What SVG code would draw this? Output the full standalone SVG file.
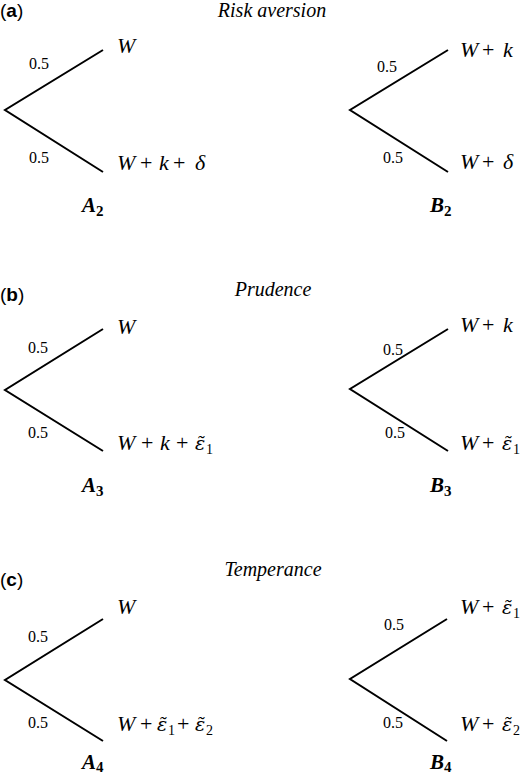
<svg xmlns="http://www.w3.org/2000/svg" width="520" height="777" viewBox="0 0 520 777">
<style>
.bg{fill:#fff}
.ln{stroke:#000;stroke-width:2;fill:none;stroke-linecap:butt}
.pl{font-family:"Liberation Sans",Arial,sans-serif;font-size:19px;fill:#000}
.pl .b{font-weight:bold}
.ti{font-family:"Liberation Serif",serif;font-style:italic;font-size:20px;fill:#000}
.pr{font-family:"Liberation Serif",serif;font-size:16px;fill:#000}
.m{font-family:"Liberation Serif",serif;font-style:italic;font-size:22px;fill:#000}
.m .u{font-style:normal}
.m .s{font-style:normal;font-size:14px}
.e{font-family:"DejaVu Serif",serif;font-style:italic;font-size:19px}
.lb{font-family:"Liberation Serif",serif;font-style:italic;font-weight:bold;font-size:21px;fill:#000}
.lb .s{font-style:normal;font-size:15px}
</style>
<rect class="bg" x="0" y="0" width="520" height="777"/>

<g id="connectors">
<path class="ln" d="M103,50 L5,110 L103,172"/>
<path class="ln" d="M448,50 L350,110 L448,172"/>
<path class="ln" d="M103,329 L5,390 L103,451"/>
<path class="ln" d="M448,329 L350,389 L448,451"/>
<path class="ln" d="M103,619 L5,680 L103,741"/>
<path class="ln" d="M447,619 L350,679 L447,741"/>
</g>

<g id="panel-a">
<text class="pl" x="0" y="17">(<tspan class="b">a</tspan>)</text>
<text class="ti" x="272" y="17" text-anchor="middle">Risk aversion</text>
</g>
<g id="A2">
<text class="pr" x="29" y="69">0.5</text>
<text class="pr" x="29" y="163">0.5</text>
<text class="m" x="117" y="53">W</text>
<text class="m" y="170"><tspan x="117">W</tspan><tspan class="u" x="140">+</tspan><tspan x="159">k</tspan><tspan class="u" x="173">+</tspan><tspan x="195">δ</tspan></text>
<text class="lb" y="212"><tspan x="82">A</tspan><tspan class="s" x="96" y="216">2</tspan></text>
</g>
<g id="B2">
<text class="pr" x="377" y="72">0.5</text>
<text class="pr" x="383" y="163">0.5</text>
<text class="m" y="57"><tspan x="460">W</tspan><tspan class="u" x="482">+</tspan><tspan x="503">k</tspan></text>
<text class="m" y="169"><tspan x="460">W</tspan><tspan class="u" x="482">+</tspan><tspan x="503">δ</tspan></text>
<text class="lb" y="212"><tspan x="430">B</tspan><tspan class="s" x="444" y="216">2</tspan></text>
</g>

<g id="panel-b">
<text class="pl" x="0" y="301">(<tspan class="b">b</tspan>)</text>
<text class="ti" x="273" y="296" text-anchor="middle">Prudence</text>
</g>
<g id="A3">
<text class="pr" x="28" y="353">0.5</text>
<text class="pr" x="28" y="438">0.5</text>
<text class="m" x="117" y="334">W</text>
<text class="m" y="450"><tspan x="117">W</tspan><tspan class="u" x="141">+</tspan><tspan x="160">k</tspan><tspan class="u" x="176">+</tspan><tspan class="e" x="195">ε̃</tspan><tspan class="s" x="206" y="454">1</tspan></text>
<text class="lb" y="492"><tspan x="82">A</tspan><tspan class="s" x="96" y="496">3</tspan></text>
</g>
<g id="B3">
<text class="pr" x="383" y="355">0.5</text>
<text class="pr" x="385" y="438">0.5</text>
<text class="m" y="332"><tspan x="460">W</tspan><tspan class="u" x="482">+</tspan><tspan x="503">k</tspan></text>
<text class="m" y="450"><tspan x="460">W</tspan><tspan class="u" x="482">+</tspan><tspan class="e" x="502">ε̃</tspan><tspan class="s" x="513" y="454">1</tspan></text>
<text class="lb" y="492"><tspan x="430">B</tspan><tspan class="s" x="444" y="496">3</tspan></text>
</g>

<g id="panel-c">
<text class="pl" x="0" y="586">(<tspan class="b">c</tspan>)</text>
<text class="ti" x="273" y="576" text-anchor="middle">Temperance</text>
</g>
<g id="A4">
<text class="pr" x="28" y="642">0.5</text>
<text class="pr" x="28" y="728">0.5</text>
<text class="m" x="117" y="614">W</text>
<text class="m" y="731"><tspan x="117">W</tspan><tspan class="u" x="140">+</tspan><tspan class="e" x="157">ε̃</tspan><tspan class="s" x="168" y="735">1</tspan><tspan class="u" x="177" y="731">+</tspan><tspan class="e" x="195">ε̃</tspan><tspan class="s" x="206" y="735">2</tspan></text>
<text class="lb" y="769"><tspan x="82">A</tspan><tspan class="s" x="96" y="772">4</tspan></text>
</g>
<g id="B4">
<text class="pr" x="384" y="630">0.5</text>
<text class="pr" x="383" y="728">0.5</text>
<text class="m" y="614"><tspan x="460">W</tspan><tspan class="u" x="482">+</tspan><tspan class="e" x="502">ε̃</tspan><tspan class="s" x="513" y="618">1</tspan></text>
<text class="m" y="731"><tspan x="460">W</tspan><tspan class="u" x="482">+</tspan><tspan class="e" x="502">ε̃</tspan><tspan class="s" x="513" y="735">2</tspan></text>
<text class="lb" y="769"><tspan x="430">B</tspan><tspan class="s" x="444" y="772">4</tspan></text>
</g>
</svg>
